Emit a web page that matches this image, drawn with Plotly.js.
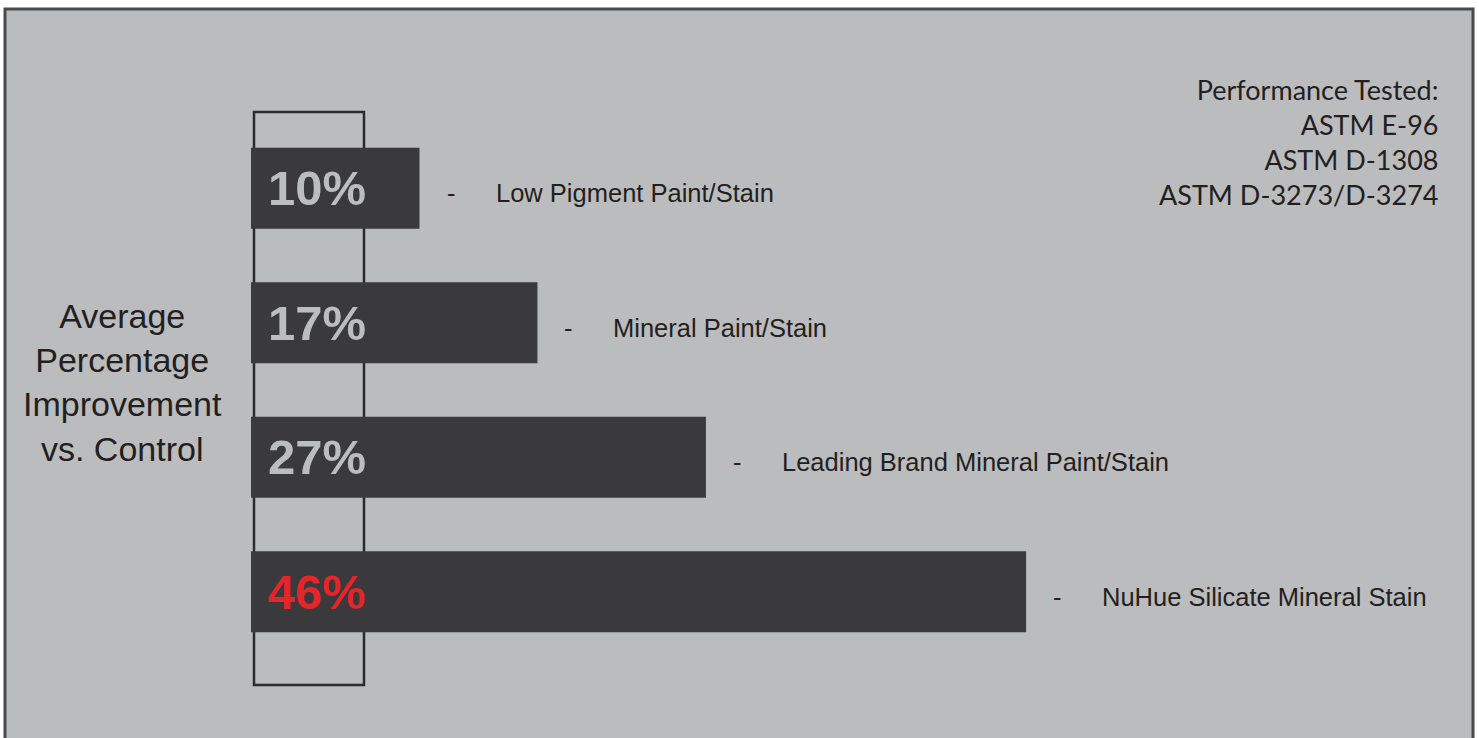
<!DOCTYPE html>
<html>
<head>
<meta charset="utf-8">
<script src="https://cdn.plot.ly/plotly-3.0.1.min.js"></script>
<style>
html,body{margin:0;padding:0;background:#ffffff;}
#chart{width:1479px;height:738px;}
</style>
</head>
<body>
<div id="chart"></div>
<script>
// ---- data ----
const categories = ["Low Pigment Paint/Stain", "Mineral Paint/Stain", "Leading Brand Mineral Paint/Stain", "NuHue Silicate Mineral Stain"];
const values = [10, 17, 27, 46];
const valueLabels = ["10%", "17%", "27%", "46%"];
const valueLabelColors = ["#bcbdbf", "#bcbdbf", "#bcbdbf", "#e4262b"];
const yTitleLines = ["Average", "Percentage", "Improvement", "vs. Control"];
const testLines = ["Performance Tested:", "ASTM E-96", "ASTM D-1308", "ASTM D-3273/D-3274"];

// ---- layout geometry (pixels) ----
const W = 1479, H = 738;
const mL = 251, mR = 217, mT = 121, mB = 79;
const pw = W - mL - mR, ph = H - mT - mB;
const px = x => (x - mL) / pw;
const py = y => (H - mB - y) / ph;

const bar = {
  type: 'bar',
  orientation: 'h',
  y: categories,
  x: values,
  width: 0.602,
  marker: {color: '#3a3a3c', line: {width: 0}},
  hoverinfo: 'skip',
  showlegend: false
};

const labelFont = {family: 'Liberation Sans, Arial, sans-serif', size: 25.5, color: '#231f20'};
const annotations = [];
categories.forEach((c, i) => {
  annotations.push({
    x: 0, y: c, xref: 'x', yref: 'y', xanchor: 'left', yanchor: 'middle',
    xshift: 15, yshift: 0, showarrow: false, text: valueLabels[i],
    font: {family: 'Liberation Sans, Arial, sans-serif', size: 49, color: valueLabelColors[i], weight: 'bold'}
  });
  annotations.push({
    x: values[i], y: c, xref: 'x', yref: 'y', xanchor: 'left', yanchor: 'middle',
    xshift: 25, yshift: -5, showarrow: false, text: '-', font: labelFont
  });
  annotations.push({
    x: values[i], y: c, xref: 'x', yref: 'y', xanchor: 'left', yanchor: 'middle',
    xshift: 74, yshift: -5, showarrow: false, text: c, font: labelFont
  });
});

annotations.push({
  x: px(122), y: py(382), xref: 'paper', yref: 'paper', xanchor: 'center', yanchor: 'middle',
  showarrow: false, align: 'center', text: yTitleLines.join('<br>'),
  font: {family: 'Liberation Sans, Arial, sans-serif', size: 34, color: '#231f20'}
});
annotations.push({
  x: px(1440), y: py(71), xref: 'paper', yref: 'paper', xanchor: 'right', yanchor: 'top',
  showarrow: false, align: 'right', text: testLines.join('<br>'),
  font: {family: 'Lato, Open Sans, sans-serif', size: 27, color: '#231f20'}
});

const shapes = [
  {type: 'rect', xref: 'paper', yref: 'paper', layer: 'below',
   x0: px(5), x1: px(1473), y0: py(9), y1: py(760),
   fillcolor: '#bbbcbe', line: {color: '#4a4a4c', width: 3}},
  {type: 'rect', xref: 'paper', yref: 'paper', layer: 'below',
   x0: px(254), x1: px(364), y0: py(112), y1: py(685),
   fillcolor: 'rgba(0,0,0,0)', line: {color: '#2b2a2c', width: 2.5}}
];

const layout = {
  width: W, height: H,
  margin: {l: mL, r: mR, t: mT, b: mB, pad: 0},
  paper_bgcolor: '#ffffff',
  plot_bgcolor: 'rgba(0,0,0,0)',
  xaxis: {range: [0, 60], visible: false, fixedrange: true},
  yaxis: {type: 'category', autorange: 'reversed', visible: false, fixedrange: true},
  annotations: annotations,
  shapes: shapes,
  showlegend: false
};

Plotly.newPlot('chart', [bar], layout, {displayModeBar: false, staticPlot: true});
</script>
</body>
</html>
